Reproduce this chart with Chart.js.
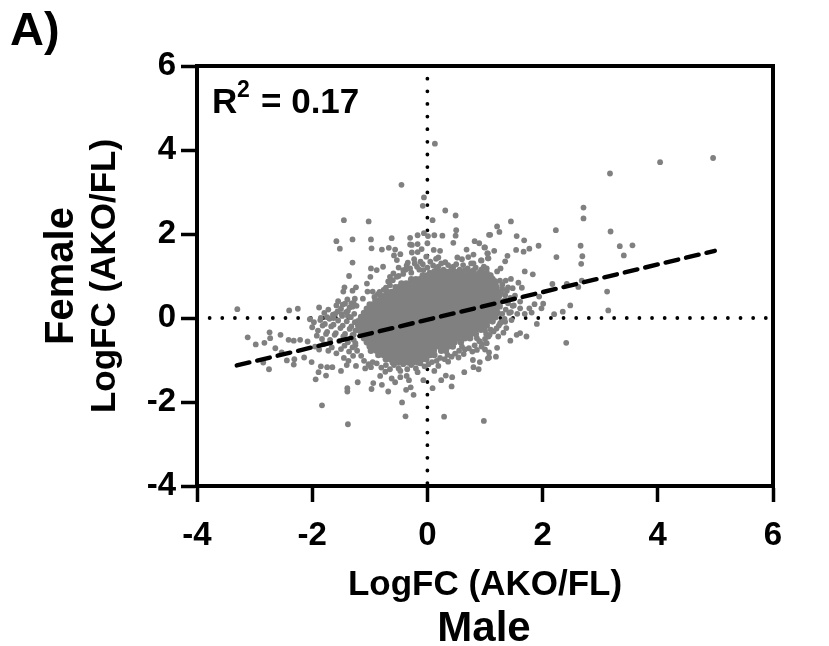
<!DOCTYPE html>
<html>
<head>
<meta charset="utf-8">
<style>
body { margin: 0; background: #fff; }
#wrap { position: relative; width: 829px; height: 646px; }
</style>
<script src="https://cdn.jsdelivr.net/npm/chart.js@4"></script>
</head>
<body>
<div id="wrap"><canvas id="scatterChart" width="829" height="646"></canvas></div>
<script>
var tickValues = [-4, -2, 0, 2, 4, 6];

// regression line, end points
var fitX = [-3.31, 4.99];
var fitY = [-1.13, 1.60];

// single dots that can be told apart
var looseX = [0.13,-0.45,-0.06,-0.08,0.31,0.49,0.09,-1.45,-1.02,0.50,0.49,0.26,0.12,0.01,-0.06,-0.17,-0.30,-0.62,-0.98,-1.30,-1.58,-1.52,-0.97,-0.79,-0.67,-0.56,-0.47,-0.58,-0.53,-0.30,-0.27,-0.17,0.0,0.45,0.82,0.90,1.00,1.07,0.68,0.22,0.11,-0.10,-0.17,-0.27,-0.02,0.19,0.15,0.80,1.05,0.71,0.52,0.60,0.31,0.05,-0.12,-0.23,-0.34,0.80,0.93,1.05,-1.30,-0.77,-0.88,-0.98,-0.99,-1.36,-1.05,-1.24,-1.44,-1.46,-1.30,-1.04,-0.95,-0.86,-0.76,-0.65,-0.59,-0.42,-0.30,-0.18,-0.07,0.19,0.45,0.65,0.80,0.94,-0.68,-0.53,-1.12,-1.30,-1.23,-1.88,-2.25,-2.40,-3.30,-1.74,-1.60,-1.49,-1.38,-2.04,-1.85,-1.38,-1.63,-0.995,
-3.12,-2.98,-2.83,-2.74,-2.73,-2.55,-2.64,-2.53,-2.41,-2.32,-2.21,-2.08,-2.44,-2.31,-2.32,-2.85,-2.75,-2.14,-2.01,-1.89,-1.94,-1.76,-1.85,-1.74,-1.65,-1.50,-1.39,-1.39,-1.21,-1.83,-1.38,-0.97,-0.94,-0.79,-0.68,-0.82,-0.73,-0.62,-0.56,-0.47,-0.37,-0.29,-0.36,-0.32,-0.24,-0.44,-0.38,0.29,0.98,0.09,-0.07,0.42,0.24,0.32,0.43,0.64,0.12,-0.17,-0.47,-0.98,-1.08,-1.24,-1.40,0.80,0.89,0.79,0.91,0.54,0.63,0.36,0.19,0.86,1.05,1.00,0.91,1.06,
4.96,4.04,3.17,2.71,2.71,3.18,2.23,1.45,1.21,1.25,1.09,1.55,1.68,1.93,1.77,1.67,1.54,1.16,0.99,1.39,1.35,1.04,1.06,0.94,2.66,2.24,2.69,2.67,3.34,3.56,3.41,1.69,1.83,1.27,1.21,1.03,1.45,1.36,1.26,1.58,1.64,1.48,1.40,2.17,2.42,2.68,2.62,3.12,3.14,1.94,1.52,1.61,2.01,1.86,1.98,2.48,2.35,2.20,1.77,1.81,1.69,1.56,1.45,1.48,1.61,1.90,2.41,1.72,1.61,1.55,1.44,1.37,1.32,1.23,1.21,1.07,1.19,1.07,1.26,1.35,1.46,1.26,1.35,1.20,1.09,1.17,1.06,1.26,1.00,1.03,0.94,
-1.95,-1.88,-1.8,-1.72,-1.66,-1.58,-1.5,-1.44,-1.36,-1.3,-1.92,-1.83,-1.76,-1.69,-1.61,-1.53,-1.46,-1.38,-1.31,-1.25,-2.0,-1.9,-1.82,-1.74,-1.67,-1.59,-1.51,-1.43,-1.35,-1.28,-1.97,-1.86,-1.78,-1.7,-1.63,-1.55,-1.47,-1.4,-1.32,-1.26,-1.79,-1.72,-1.64,-1.56,-1.48,-1.41,-1.33,-1.27,-1.58,-1.5,-1.43,-1.35,-1.28,-1.55,-1.47,-1.39,-1.32,-1.26,-1.45,-1.37,-1.29];
var looseY = [4.15,3.17,2.87,2.67,2.56,2.44,2.33,2.33,2.30,2.09,1.96,1.96,1.97,1.95,2.02,1.97,1.91,1.90,1.87,1.87,1.83,1.65,1.66,1.63,1.67,1.63,1.52,1.49,1.38,1.75,1.74,1.76,1.78,1.79,1.83,1.78,1.68,1.98,1.63,1.60,1.62,1.64,1.57,1.56,1.46,1.44,1.41,1.51,1.54,1.45,1.44,1.40,1.33,1.34,1.34,1.40,1.32,1.30,1.37,1.42,1.32,1.22,1.14,1.18,0.98,1.0,0.82,0.73,0.73,0.63,0.65,0.63,0.63,0.57,0.67,0.98,1.06,1.14,1.18,1.22,1.14,1.22,1.22,1.14,1.14,1.16,0.87,0.98,0.46,0.27,0.29,0.25,0.22,0.18,0.21,0.02,0.10,0.09,0.17,-0.03,0.0,0.05,0.0,0.27,
-0.46,-0.63,-0.59,-0.34,-0.48,-0.40,-0.72,-0.82,-0.52,-0.54,-0.52,-0.56,-1.01,-0.98,-1.11,-1.06,-1.22,-0.94,-1.05,-1.29,-1.46,-1.37,-1.15,-1.17,-1.17,-1.26,-1.67,-1.75,-1.53,-2.08,-2.53,-1.69,-1.55,-1.59,-1.75,-1.38,-1.28,-1.44,-1.53,-1.41,-1.71,-1.65,-1.38,-1.48,-1.83,-2.01,-2.34,-2.35,-2.45,-1.67,-1.48,-1.63,-1.48,-1.37,-1.41,-1.29,-1.26,-1.29,-1.26,-1.17,-1.20,-1.14,-1.12,-1.17,-1.22,-1.0,-1.05,-0.94,-0.86,-1.04,-1.14,-0.76,-0.96,-0.75,-0.56,-0.44,
3.81,3.71,3.44,2.63,2.37,2.06,2.09,2.30,2.18,2.05,1.98,1.95,1.85,1.72,1.65,1.58,1.62,1.60,1.68,1.48,1.35,1.54,1.42,1.37,1.72,1.45,1.47,1.29,1.71,1.73,1.49,1.11,1.04,1.18,1.11,1.18,0.93,0.89,0.89,0.84,0.72,0.71,0.73,0.81,0.81,0.89,0.74,0.63,0.18,0.51,0.53,0.39,0.34,0.33,0.23,0.30,0.15,0.09,0.23,0.13,0.10,0.10,0.14,0.29,0.23,-0.14,-0.59,-0.44,-0.36,-0.40,-0.54,-0.24,-0.35,-0.44,-0.71,-0.82,-0.92,-0.94,-0.13,-0.09,-0.05,0.27,0.43,0.51,0.59,0.83,0.75,0.55,-0.29,-0.60,-0.68,
-0.68,-0.75,-0.62,-0.78,-0.7,-0.84,-0.74,-0.66,-0.8,-0.7,-0.42,-0.5,-0.38,-0.52,-0.4,-0.55,-0.44,-0.58,-0.46,-0.6,-0.22,-0.3,-0.18,-0.33,-0.2,-0.36,-0.24,-0.38,-0.26,-0.4,-0.1,-0.05,-0.14,-0.02,-0.16,-0.06,-0.18,-0.08,-0.2,-0.1,0.12,0.2,0.08,0.16,0.05,0.14,0.02,0.1,0.3,0.22,0.34,0.25,0.36,0.4,0.32,0.44,0.35,0.46,-0.95,-1.02,-0.9];

// busy rim just outside the saturated part
var rimX = [-0.5,-0.42,-0.36,-0.28,-0.22,-0.14,-0.08,0,0.04,0.1,0.16,0.24,0.28,0.36,0.42,0.5,0.56,0.62,0.7,0.76,0.84,0.9,0.98,1.03,1.1,-0.65,-0.6,-0.5,-0.72,-0.83,-0.92,-0.38,1.12,1.18,
1.3,1.28,1.35,1.32,1.4,1.36,1.42,1.3,1.34,1.28,1.3,1.38,1.44,1.5,1.24,1.2,1.15,1.08,1.1,1.0,1.02,0.9,0.95,0.82,0.86,0.72,0.78,0.65,0.55,0.6,0.48,0.42,0.35,0.3,0.22,0.16,0.08,0.02,
-0.05,-0.12,-0.2,-0.28,-0.35,-0.42,-0.5,-0.58,-0.65,-0.72,-0.8,-0.88,-0.95,-1.02,-1.1,-1.15,-1.22,-1.25,-1.28,-1.3,-1.25];
var rimY = [1.2,1.05,1.25,1.08,1.3,1.15,1.28,1.2,1.08,1.25,1.18,1.3,1.15,1.26,1.18,1.28,1.15,1.26,1.18,1.3,1.2,1.08,1.22,1.1,1.02,0.78,0.9,1.0,0.72,0.62,0.5,1.15,0.95,0.88,
0.8,0.62,0.55,0.4,0.35,0.2,0.12,0.1,-0.02,-0.1,0.7,0.65,0.48,0.3,-0.18,-0.25,-0.32,-0.4,-0.28,-0.5,-0.38,-0.55,-0.62,-0.65,-0.48,-0.72,-0.8,-0.75,-0.78,-0.68,-0.85,-0.92,-0.88,-0.98,-0.95,-1.02,-1.05,-1.1,
-1.15,-1.08,-1.2,-1.12,-1.22,-1.1,-1.2,-1.12,-1.22,-1.12,-1.18,-1.08,-1.05,-1.1,-1.02,-0.9,-0.78,-0.65,-0.52,-0.4,-0.3];

// saturated middle of the cloud, one list of x per row
var coreY = [1.10,1.01,0.92,0.82,0.73,0.62,0.52,0.42,0.32,0.22,0.12,0.02,-0.08,-0.18,-0.28,-0.38,-0.48,-0.58,-0.68,-0.78,-0.88,-0.98,-1.06];
var coreX = [
[0.12,0.2,0.31,0.38,0.47,0.55,0.6,0.72,0.8,0.93],
[-0.08,-0.01,0.07,0.14,0.22,0.28,0.36,0.43,0.5,0.57,0.64,0.72,0.78,0.85,0.92,1.0,1.07],
[-0.28,-0.2,-0.13,-0.06,0.01,0.08,0.15,0.22,0.29,0.36,0.43,0.5,0.57,0.64,0.71,0.78,0.85,0.92,0.99,1.06,1.13],
[-0.45,-0.37,-0.31,-0.24,-0.17,-0.1,-0.03,0.04,0.11,0.18,0.25,0.32,0.39,0.46,0.53,0.6,0.67,0.74,0.81,0.88,0.95,1.02,1.09,1.18],
[-0.55,-0.49,-0.42,-0.35,-0.28,-0.21,-0.14,-0.07,0,0.07,0.14,0.21,0.28,0.35,0.42,0.49,0.56,0.63,0.7,0.77,0.84,0.91,0.98,1.05,1.12,1.2],
[-0.7,-0.62,-0.55,-0.48,-0.41,-0.34,-0.27,-0.2,-0.13,-0.06,0.01,0.08,0.15,0.22,0.29,0.36,0.43,0.5,0.57,0.64,0.71,0.78,0.85,0.92,0.99,1.06,1.13,1.22],
[-0.8,-0.73,-0.66,-0.59,-0.52,-0.45,-0.38,-0.31,-0.24,-0.17,-0.1,-0.03,0.04,0.11,0.18,0.25,0.32,0.39,0.46,0.53,0.6,0.67,0.74,0.81,0.88,0.95,1.02,1.09,1.16,1.24],
[-0.9,-0.83,-0.76,-0.69,-0.62,-0.55,-0.48,-0.41,-0.34,-0.27,-0.2,-0.13,-0.06,0.01,0.08,0.15,0.22,0.29,0.36,0.43,0.5,0.57,0.64,0.71,0.78,0.85,0.92,0.99,1.06,1.13,1.22],
[-1.0,-0.94,-0.87,-0.8,-0.73,-0.66,-0.59,-0.52,-0.45,-0.38,-0.31,-0.24,-0.17,-0.1,-0.03,0.04,0.11,0.18,0.25,0.32,0.39,0.46,0.53,0.6,0.67,0.74,0.81,0.88,0.95,1.02,1.09,1.16,1.25],
[-1.05,-0.98,-0.91,-0.84,-0.77,-0.7,-0.63,-0.56,-0.49,-0.42,-0.35,-0.28,-0.21,-0.14,-0.07,0,0.07,0.14,0.21,0.28,0.35,0.42,0.49,0.56,0.63,0.7,0.77,0.84,0.91,0.98,1.05,1.12,1.2],
[-1.1,-1.04,-0.97,-0.9,-0.83,-0.76,-0.69,-0.62,-0.55,-0.48,-0.41,-0.34,-0.27,-0.2,-0.13,-0.06,0.01,0.08,0.15,0.22,0.29,0.36,0.43,0.5,0.57,0.64,0.71,0.78,0.85,0.92,0.99,1.06,1.13,1.22],
[-1.15,-1.08,-1.01,-0.94,-0.87,-0.8,-0.73,-0.66,-0.59,-0.52,-0.45,-0.38,-0.31,-0.24,-0.17,-0.1,-0.03,0.04,0.11,0.18,0.25,0.32,0.39,0.46,0.53,0.6,0.67,0.74,0.81,0.88,0.95,1.02,1.09,1.18],
[-1.2,-1.13,-1.06,-0.99,-0.92,-0.85,-0.78,-0.71,-0.64,-0.57,-0.5,-0.43,-0.36,-0.29,-0.22,-0.15,-0.08,-0.01,0.06,0.13,0.2,0.27,0.34,0.41,0.48,0.55,0.62,0.69,0.76,0.83,0.9,0.97,1.04,1.13],
[-1.2,-1.15,-1.08,-1.01,-0.94,-0.87,-0.8,-0.73,-0.66,-0.59,-0.52,-0.45,-0.38,-0.31,-0.24,-0.17,-0.1,-0.03,0.04,0.11,0.18,0.25,0.32,0.39,0.46,0.53,0.6,0.67,0.74,0.81,0.88,0.95,1.03],
[-1.2,-1.13,-1.06,-0.99,-0.92,-0.85,-0.78,-0.71,-0.64,-0.57,-0.5,-0.43,-0.36,-0.29,-0.22,-0.15,-0.08,-0.01,0.06,0.13,0.2,0.27,0.34,0.41,0.48,0.55,0.62,0.69,0.76,0.83,0.93],
[-1.15,-1.08,-1.01,-0.94,-0.87,-0.8,-0.73,-0.66,-0.59,-0.52,-0.45,-0.38,-0.31,-0.24,-0.17,-0.1,-0.03,0.04,0.11,0.18,0.25,0.32,0.39,0.46,0.53,0.6,0.67,0.74,0.84],
[-1.1,-1.03,-0.96,-0.89,-0.82,-0.75,-0.68,-0.61,-0.54,-0.47,-0.4,-0.33,-0.26,-0.19,-0.12,-0.05,0.02,0.09,0.16,0.23,0.3,0.37,0.44,0.51,0.58,0.65,0.74],
[-1.05,-0.98,-0.93,-0.86,-0.79,-0.72,-0.65,-0.58,-0.51,-0.44,-0.37,-0.3,-0.23,-0.16,-0.09,-0.02,0.05,0.12,0.19,0.26,0.33,0.4,0.47,0.58],
[-1.0,-0.9,-0.83,-0.76,-0.69,-0.62,-0.55,-0.48,-0.41,-0.34,-0.27,-0.2,-0.13,-0.06,0.01,0.08,0.15,0.22,0.29,0.36,0.44],
[-0.98,-0.88,-0.8,-0.73,-0.66,-0.59,-0.52,-0.45,-0.38,-0.31,-0.24,-0.17,-0.1,-0.03,0.04,0.11,0.24,0.32],
[-0.85,-0.76,-0.67,-0.6,-0.53,-0.46,-0.39,-0.32,-0.25,-0.18,-0.11,-0.04,0.05,0.12],
[-0.72,-0.64,-0.55,-0.47,-0.4,-0.33,-0.26,-0.18,-0.1,-0.02],
[-0.6,-0.5,-0.42,-0.33,-0.25,-0.16]
];

// dotted zero lines
var zeroLineX = [-4, 6];
var zeroLineY = [-4, 6];

var scattered = [];
for (var i = 0; i < looseX.length; i++) {
    scattered.push({ x: looseX[i], y: looseY[i] });
}
for (var k = 0; k < rimX.length; k++) {
    scattered.push({ x: rimX[k], y: rimY[k] });
}
var core = [];
for (var r = 0; r < coreY.length; r++) {
    for (var j = 0; j < coreX[r].length; j++) {
        core.push({ x: coreX[r][j], y: coreY[r] });
    }
}

var fontName = "'Liberation Sans', Arial, sans-serif";

// box round the plot and the texts the axes cannot hold
var extras = {
    id: 'extras',
    afterDraw: function (chart) {
        var ctx = chart.ctx;
        var area = chart.chartArea;
        ctx.save();
        ctx.strokeStyle = '#000';
        ctx.lineWidth = 4;
        ctx.strokeRect(area.left, area.top, area.right - area.left, area.bottom - area.top);

        ctx.fillStyle = '#000';
        ctx.textBaseline = 'alphabetic';
        ctx.textAlign = 'left';
        ctx.font = 'bold 47px ' + fontName;
        ctx.fillText('A)', 10, 45);

        ctx.font = 'bold 35px ' + fontName;
        ctx.fillText('R', 212, 113);
        ctx.font = 'bold 23px ' + fontName;
        ctx.fillText('2', 237, 97);
        ctx.font = 'bold 35px ' + fontName;
        ctx.fillText('= 0.17', 261, 113);

        ctx.textAlign = 'center';
        ctx.font = 'bold 42px ' + fontName;
        ctx.fillText('Male', 484, 641);
        ctx.translate(73, 276);
        ctx.rotate(-Math.PI / 2);
        ctx.font = 'bold 40px ' + fontName;
        ctx.fillText('Female', 0, 0);
        ctx.restore();
    }
};

var titleFont = { family: fontName, weight: 'bold', size: 35, lineHeight: 1.2 };
var tickFont = { family: fontName, weight: 'bold', size: 33 };

new Chart(document.getElementById('scatterChart').getContext('2d'), {
    type: 'scatter',
    data: {
        datasets: [{
            label: 'Fit',
            type: 'line',
            data: [{ x: fitX[0], y: fitY[0] }, { x: fitX[1], y: fitY[1] }],
            borderColor: '#000',
            borderWidth: 4.4,
            borderDash: [13, 8],
            borderCapStyle: 'round',
            pointRadius: 0,
            order: 1
        }, {
            label: 'Genes',
            data: scattered,
            backgroundColor: '#808080',
            borderWidth: 0,
            pointRadius: 2.9,
            order: 2
        }, {
            label: 'Genes, saturated',
            data: core,
            backgroundColor: '#808080',
            borderWidth: 0,
            pointRadius: 3.3,
            order: 2
        }, {
            label: 'x zero',
            type: 'line',
            data: [{ x: zeroLineX[0], y: 0 }, { x: zeroLineX[1], y: 0 }],
            borderColor: '#000',
            borderWidth: 3.8,
            borderDash: [0, 12.64],
            borderCapStyle: 'round',
            pointRadius: 0,
            order: 3
        }, {
            label: 'y zero',
            type: 'line',
            data: [{ x: 0, y: zeroLineY[1] }, { x: 0, y: zeroLineY[0] }],
            borderColor: '#000',
            borderWidth: 3.8,
            borderDash: [0, 12.64],
            borderCapStyle: 'round',
            pointRadius: 0,
            order: 3
        }]
    },
    options: {
        responsive: false,
        animation: false,
        layout: { padding: { top: 66, right: 56, bottom: 0, left: 0 } },
        plugins: { legend: { display: false }, tooltip: { enabled: false } },
        scales: {
            x: {
                type: 'linear',
                min: -4,
                max: 6,
                afterBuildTicks: function (scale) {
                    scale.ticks = tickValues.map(function (v) { return { value: v }; });
                },
                afterFit: function (scale) { scale.height = 160; },
                border: { display: true, color: '#000', width: 4 },
                grid: { drawOnChartArea: false, drawTicks: true, tickLength: 16, tickWidth: 3.5, tickColor: '#000' },
                ticks: { color: '#000', font: tickFont, padding: 14, maxRotation: 0 },
                title: { display: true, text: 'LogFC (AKO/FL)', color: '#000', font: titleFont, padding: { top: 0, bottom: 40 } }
            },
            y: {
                type: 'linear',
                min: -4,
                max: 6,
                afterBuildTicks: function (scale) {
                    scale.ticks = tickValues.map(function (v) { return { value: v }; });
                },
                afterFit: function (scale) { scale.width = 197; },
                border: { display: true, color: '#000', width: 4 },
                grid: { drawOnChartArea: false, drawTicks: true, tickLength: 16, tickWidth: 3.5, tickColor: '#000' },
                ticks: { color: '#000', font: tickFont, padding: 5 },
                title: { display: true, text: 'LogFC (AKO/FL)', color: '#000', font: titleFont, padding: { top: 84, bottom: 0 } }
            }
        }
    },
    plugins: [extras]
});
</script>
</body>
</html>
